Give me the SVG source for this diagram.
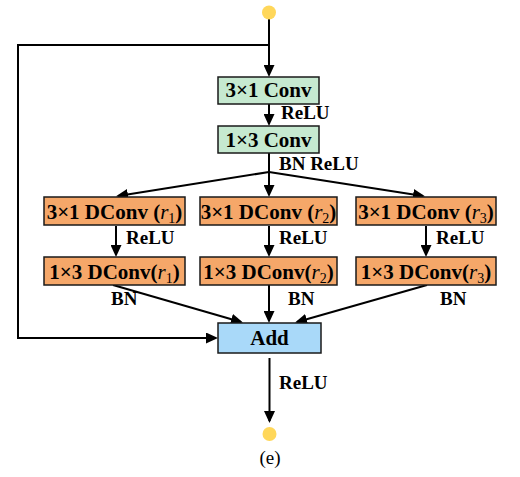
<svg xmlns="http://www.w3.org/2000/svg" width="520" height="477" viewBox="0 0 520 477">
<defs>
<marker id="ah" markerUnits="userSpaceOnUse" markerWidth="12" markerHeight="11" refX="10" refY="5.5" orient="auto">
<path d="M0,0 L12,5.5 L0,11 z" fill="#000"/>
</marker>
<style>
.box{stroke:#1a1a1a;stroke-width:1.5}
.g{fill:#C6E9D0}
.o{fill:#F5A769}
.b{fill:#A9D9F9}
.bt{font-family:"Liberation Serif","Times New Roman",serif;font-weight:bold;font-size:21px;text-anchor:middle;fill:#000}
.lb{font-family:"Liberation Serif","Times New Roman",serif;font-weight:bold;font-size:19px;fill:#000}
.ln{fill:none;stroke:#000;stroke-width:2}
.dot{fill:#FFD75A}
.ri{font-style:italic;font-weight:normal}
.sb{font-size:14px;font-weight:normal}
</style>
</defs>
<rect width="520" height="477" fill="#fff"/>
<g id="connectors">
<path class="ln" d="M269,19 V75" marker-end="url(#ah)"/>
<path class="ln" d="M269,45 H18 V338 H216" marker-end="url(#ah)"/>
<path class="ln" d="M269,104 V124" marker-end="url(#ah)"/>
<path class="ln" d="M269,153 V195" marker-end="url(#ah)"/>
<path class="ln" d="M269,172 L118,196" marker-end="url(#ah)"/>
<path class="ln" d="M269,172 L423,196" marker-end="url(#ah)"/>
<path class="ln" d="M116,226 V255" marker-end="url(#ah)"/>
<path class="ln" d="M269,226 V255" marker-end="url(#ah)"/>
<path class="ln" d="M426,226 V255" marker-end="url(#ah)"/>
<path class="ln" d="M113,285 L241,322" marker-end="url(#ah)"/>
<path class="ln" d="M269,285 V321" marker-end="url(#ah)"/>
<path class="ln" d="M427,285 L297,322" marker-end="url(#ah)"/>
<path class="ln" d="M269.5,358 V421" marker-end="url(#ah)"/>
<text class="lb" x="281" y="119">ReLU</text>
<text class="lb" x="279" y="170">BN ReLU</text>
<text class="lb" x="126" y="244">ReLU</text>
<text class="lb" x="279" y="244">ReLU</text>
<text class="lb" x="436" y="244">ReLU</text>
<text class="lb" x="111" y="305">BN</text>
<text class="lb" x="288" y="305">BN</text>
<text class="lb" x="440" y="305">BN</text>
<text class="lb" x="279" y="389">ReLU</text>
</g>
<g id="input"><circle class="dot" cx="269" cy="12.5" r="7"/></g>
<g id="conv31"><rect class="box g" x="218" y="77" width="101" height="27"/><text class="bt" x="268.5" y="97">3×1 Conv</text></g>
<g id="conv13"><rect class="box g" x="218" y="126" width="101" height="27"/><text class="bt" x="268.5" y="147">1×3 Conv</text></g>
<g id="d31r1"><rect class="box o" x="44" y="197" width="141" height="28"/><text class="bt" x="114.5" y="219">3×1 DConv (<tspan class="ri">r</tspan><tspan class="sb" dy="4">1</tspan><tspan dy="-4">)</tspan></text></g>
<g id="d31r2"><rect class="box o" x="200" y="197" width="137" height="28"/><text class="bt" x="268.5" y="219">3×1 DConv (<tspan class="ri">r</tspan><tspan class="sb" dy="4">2</tspan><tspan dy="-4">)</tspan></text></g>
<g id="d31r3"><rect class="box o" x="356" y="197" width="140" height="28"/><text class="bt" x="426" y="219">3×1 DConv (<tspan class="ri">r</tspan><tspan class="sb" dy="4">3</tspan><tspan dy="-4">)</tspan></text></g>
<g id="d13r1"><rect class="box o" x="44" y="257" width="141" height="28"/><text class="bt" x="114.5" y="279">1×3 DConv(<tspan class="ri">r</tspan><tspan class="sb" dy="4">1</tspan><tspan dy="-4">)</tspan></text></g>
<g id="d13r2"><rect class="box o" x="200" y="257" width="137" height="28"/><text class="bt" x="268.5" y="279">1×3 DConv(<tspan class="ri">r</tspan><tspan class="sb" dy="4">2</tspan><tspan dy="-4">)</tspan></text></g>
<g id="d13r3"><rect class="box o" x="356" y="257" width="140" height="28"/><text class="bt" x="426" y="279">1×3 DConv(<tspan class="ri">r</tspan><tspan class="sb" dy="4">3</tspan><tspan dy="-4">)</tspan></text></g>
<g id="add"><rect class="box b" x="218" y="323" width="103" height="30"/><text class="bt" x="269.5" y="345">Add</text></g>
<g id="output"><circle class="dot" cx="269.5" cy="434" r="7"/></g>
<text x="270" y="464" font-family="Liberation Serif,'Times New Roman',serif" font-size="19" text-anchor="middle">(e)</text>
</svg>
